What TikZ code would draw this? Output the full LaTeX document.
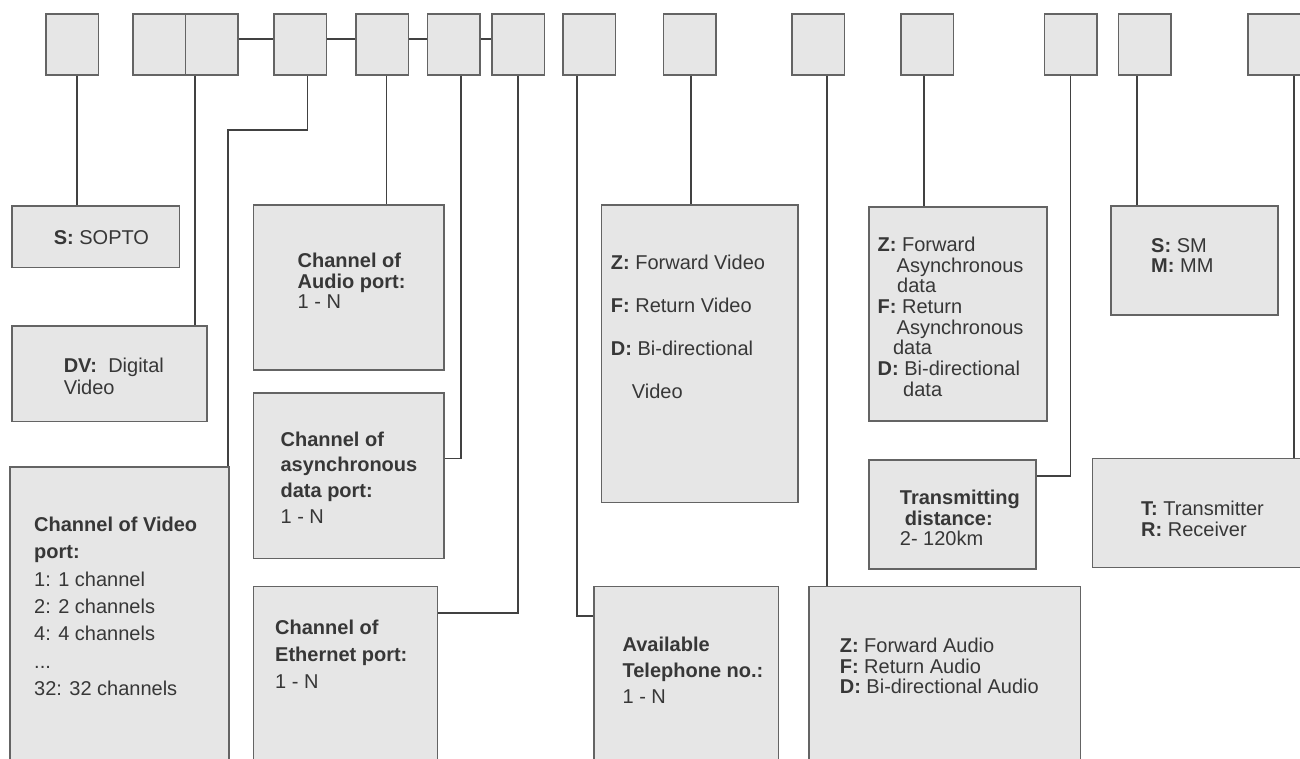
\documentclass[tikz,border=0pt]{standalone}
\usepackage{fontspec}
\setmainfont{Liberation Sans}
\definecolor{boxfill}{RGB}{230,230,230}
\definecolor{boxline}{RGB}{100,100,100}
\definecolor{wireline}{RGB}{65,65,65}
\definecolor{textgray}{RGB}{55,55,55}

\tikzset{
  topbox/.style={draw=boxline, fill=boxfill, line width=1.6pt, minimum width=52.5pt, minimum height=61pt, inner sep=0pt, anchor=north west},
  infobox/.style 2 args={draw=boxline, fill=boxfill, line width=1.6pt, inner sep=0pt, anchor=north west, minimum width=#1, minimum height=#2},
  wire/.style={draw=wireline, line width=1.8pt},
  txt/.style={anchor=north west, inner sep=0pt, align=left, text=textgray, font=\fontsize{20}{#1}\selectfont},
  txt/.default=21
}

\begin{document}
\begin{tikzpicture}[x=1pt, y=-1pt]
  \useasboundingbox (0,0) rectangle (1300,759);
  \clip (0,0) rectangle (1300,759);

  \foreach \n/\x in {1/45, 2/132, 3/184.5, 4/273, 5/355, 6/426.5, 7/491, 8/562, 9/662.5, 10/791, 11/900, 12/1043.5, 13/1117.5, 14/1247} {
    \node[topbox] (b\n) at (\x,13.3) {};
  }

  \node[infobox={167.2pt}{61.7pt}] (sopto) at (11.4,205) {};
  \node[infobox={194.6pt}{95.7pt}] (dv) at (11.4,325) {};
  \node[infobox={190.5pt}{165pt}] (audio) at (252.5,204.3) {};
  \node[infobox={190.5pt}{165.4pt}] (asyncport) at (252.5,392.3) {};
  \node[infobox={219pt}{320pt}] (video) at (9,466) {};
  \node[infobox={184pt}{200pt}] (ethernet) at (252.5,585.7) {};
  \node[infobox={196.3pt}{297.7pt}] (video2) at (600.7,204) {};
  \node[infobox={184.2pt}{200pt}] (phone) at (593.3,585.7) {};
  \node[infobox={178pt}{214pt}] (asyncdata) at (868,206) {};
  \node[infobox={167.2pt}{109.3pt}] (dist) at (868.2,459) {};
  \node[infobox={271.5pt}{200pt}] (audio2) at (808,585.7) {};
  \node[infobox={167.3pt}{109pt}] (sm) at (1110,205) {};
  \node[infobox={230pt}{109.2pt}] (trx) at (1091.5,457.5) {};

  \foreach \n/\d in {1/4.75, 3/-16.45, 4/7.45, 5/4.45, 6/7.75, 7/0, 8/-11.75, 9/1.25, 10/9, 11/-2.75, 12/0, 13/-7.25, 14/20.25} {
    \coordinate (w\n) at ([xshift=\d pt]b\n.south);
  }

  \foreach \a/\b in {3/4, 4/5, 5/6, 6/7} {
    \draw[wire] ([yshift=5.5pt]b\a.east) -- ([yshift=5.5pt]b\b.west);
  }
  \foreach \n/\t in {1/sopto, 3/dv, 5/audio, 9/video2, 10/audio2, 11/asyncdata, 13/sm, 14/trx} {
    \draw[wire] (w\n) -- (w\n |- \t.north);
  }
  \draw[wire] (w4) -- ++(0,54.4) -| ([xshift=-1.5pt]video.north east);
  \draw[wire] (w6) |- ([yshift=-66.2pt]asyncport.north east);
  \draw[wire] (w7) |- ([yshift=-27.6pt]ethernet.north east);
  \draw[wire] (w8) |- ([yshift=-30pt]phone.north west);
  \draw[wire] (w12) |- ([yshift=-17pt]dist.north east);

  \node[txt, anchor=base west] (soptotxt) at (53.6,245) {\textbf{S:} SOPTO};
  \node[txt=21.6] (dvtxt) at (63.6,358.3) {\textbf{DV:}\ \ Digital\\Video};
  \node[txt=20.5] (audiotxt) at (297.5,253.3) {\textbf{Channel of}\\\textbf{Audio port:}\\1 - N};
  \node[txt=25.6] (asyncporttxt) at (280.4,431.7) {\textbf{Channel of}\\\textbf{asynchronous}\\\textbf{data port:}\\1 - N};
  \node[txt=27.4] (videotxt) at (34,516.7) {\textbf{Channel of Video}\\\textbf{port:}\\1: 1 channel\\2: 2 channels\\4: 4 channels\\...\\32: 32 channels};
  \node[txt=27] (ethernettxt) at (275,620) {\textbf{Channel of}\\\textbf{Ethernet port:}\\1 - N};
  \node[txt=42.8] (video2txt) at (610.7,255.3) {\textbf{Z:} Forward Video\\\textbf{F:} Return Video\\\textbf{D:} Bi-directional\\\hspace*{21pt}Video};
  \node[txt=26.2] (phonetxt) at (622.4,636.7) {\textbf{Available}\\\textbf{Telephone no.:}\\1 - N};
  \node[txt=20.7] (asyncdatatxt) at (877.5,236.7) {\textbf{Z:} Forward\\\hspace*{19pt}Asynchronous\\\hspace*{19.5pt}data\\\textbf{F:} Return\\\hspace*{19pt}Asynchronous\\\hspace*{15.4pt}data\\\textbf{D:} Bi-directional\\\hspace*{25.5pt}data};
  \node[txt=20.5] (disttxt) at (899.7,490) {\textbf{Transmitting}\\\hspace*{5pt}\textbf{distance:}\\2- 120km};
  \node[txt=20.5] (audio2txt) at (839.6,638.3) {\textbf{Z:} Forward Audio\\\textbf{F:} Return Audio\\\textbf{D:} Bi-directional Audio};
  \node[txt=20] (smtxt) at (1151,238.3) {\textbf{S:} SM\\\textbf{M:} MM};
  \node[txt=20.7] (trxtxt) at (1141,501) {\textbf{T:} Transmitter\\\textbf{R:} Receiver};
\end{tikzpicture}
\end{document}
